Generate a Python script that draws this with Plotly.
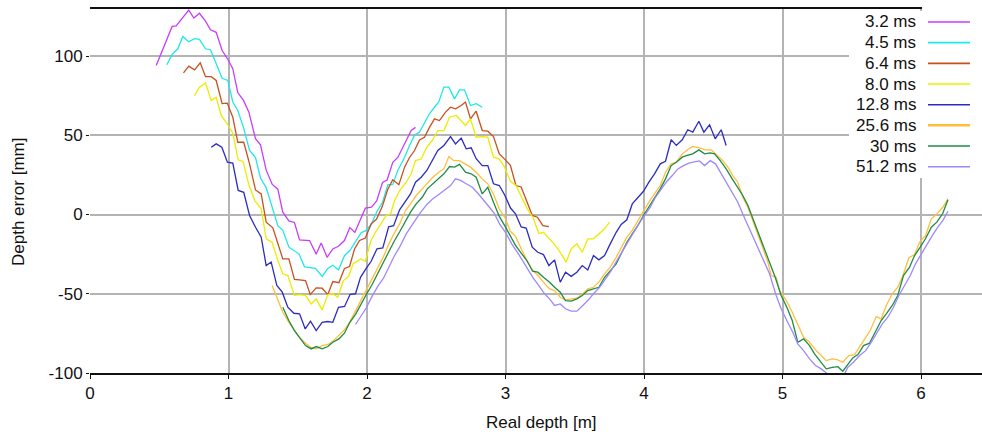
import plotly.graph_objects as go

# ---------------- data ----------------
names = ["3.2 ms", "4.5 ms", "6.4 ms", "8.0 ms", "12.8 ms", "25.6 ms", "30 ms", "51.2 ms"]
colors = ["#c83cff", "#1ee8e8", "#c8501e", "#ecec00", "#2c2cc0", "#ffbe3c", "#1e8c46", "#9f88ff"]

x_ticks = [0, 1, 2, 3, 4, 5, 6]
y_ticks = [-100, -50, 0, 50, 100]

x_32 = [0.478,0.593,0.622,0.682,0.713,0.750,0.790,0.834,0.870,0.911,0.954,0.995,1.031,1.067,1.108,1.147,1.195,1.231,1.272,1.316,1.356,1.392,1.436,1.476,1.513,1.585,1.633,1.669,1.712,1.753,1.794,1.837,1.876,1.912,1.950,1.988,2.032,2.070,2.112,2.145,2.186,2.222,2.283,2.319,2.350]
y_32 = [94,118.7,119,126,129,124,127,122,116.6,115,103.5,98,92,77,72,64.6,47.8,44,28,19,16,1.5,-4,-5,-16,-16.4,-25,-18,-27,-21.7,-20,-16.4,-8.2,-11.3,-3.8,4,4.6,8.6,20.3,21.8,33,36,46.7,53,55]

x_45 = [0.555,0.593,0.634,0.670,0.713,0.755,0.790,0.834,0.870,0.911,0.954,0.995,1.031,1.067,1.108,1.152,1.195,1.231,1.272,1.308,1.356,1.392,1.436,1.508,1.549,1.628,1.676,1.717,1.753,1.794,1.837,1.876,1.920,1.958,1.994,2.032,2.072,2.112,2.150,2.186,2.222,2.271,2.307,2.343,2.379,2.415,2.451,2.487,2.518,2.555,2.591,2.632,2.668,2.704,2.747,2.788,2.832]
y_45 = [94.5,101,104.6,112.4,109,111,110.5,104.6,104,95,86,84.6,71,65.7,55,40.4,36,23,17,6.7,-7,-10,-20.6,-24.8,-33,-34,-39,-34,-32,-35,-26,-22.7,-16.4,-11.5,-10,-6,2,7.7,18.7,19,27.8,36,43.6,50,52,58,63.6,67.7,71,80.4,80.4,73,78.7,78.7,68.8,70,67.7]

x_64 = [0.675,0.713,0.755,0.796,0.834,0.875,0.911,0.954,0.991,1.031,1.067,1.110,1.152,1.195,1.236,1.272,1.320,1.356,1.392,1.436,1.476,1.513,1.556,1.590,1.633,1.676,1.717,1.753,1.797,1.837,1.874,1.910,1.946,1.988,2.030,2.068,2.110,2.150,2.186,2.230,2.271,2.307,2.343,2.379,2.415,2.451,2.487,2.523,2.567,2.603,2.639,2.680,2.711,2.747,2.788,2.832,2.872,2.913,2.955,2.999,3.035,3.075,3.113,3.151,3.193,3.230,3.270,3.313]
y_64 = [89.4,93.6,91.3,95.7,87,87,84.6,70,70.3,61.4,45.6,45.6,32,15.5,13,-4.8,-8.4,-17.5,-28,-28,-41,-41.2,-41.7,-50.5,-46.3,-46.5,-50.5,-42.3,-43,-34,-32.8,-21.7,-16.4,-14.8,-5.9,-3,5,16,22,18.8,29.9,36,40.4,47,48.8,55,60.4,59.3,64.6,67.7,66.7,68.8,71,60.4,65.2,53,52.6,49.2,38.3,34.5,31,18.3,17.4,8.8,-0.6,-1.7,-7,-7.6]

x_80 = [0.755,0.790,0.834,0.875,0.911,0.947,0.988,1.031,1.070,1.105,1.147,1.190,1.236,1.272,1.315,1.356,1.392,1.428,1.476,1.513,1.556,1.597,1.633,1.676,1.717,1.753,1.789,1.830,1.868,1.900,1.955,1.988,2.026,2.062,2.100,2.138,2.170,2.199,2.235,2.283,2.319,2.350,2.391,2.432,2.471,2.511,2.555,2.596,2.644,2.711,2.747,2.788,2.832,2.872,2.913,2.955,2.993,3.035,3.075,3.116,3.157,3.200,3.240,3.274,3.318,3.361,3.402,3.438,3.474,3.515,3.554,3.594,3.635,3.674,3.715,3.751]
y_80 = [75,80.4,83,72,74,62.5,57.6,51.3,34.5,33.5,18.8,8.8,3.6,-15.3,-17.5,-29,-37.4,-38.5,-51,-50.5,-51,-56.4,-53.2,-60.2,-50.5,-50,-52.2,-41.7,-39,-31,-28,-29.5,-17,-11,-6,-0.6,0.4,8.8,15,20.4,25.7,34,35,42.5,46.7,53,53,61.4,62.5,56.2,60.4,48.8,49.2,48.8,36.2,35,29.9,21,18.3,10.4,3.6,-2.2,-12,-11.2,-15.3,-19.6,-24.8,-30,-21.7,-18.5,-23.8,-15.3,-15.3,-12.2,-9,-4.8]

x_128 = [0.875,0.911,0.952,0.992,1.031,1.070,1.110,1.152,1.195,1.236,1.272,1.308,1.349,1.388,1.428,1.472,1.513,1.554,1.592,1.633,1.676,1.717,1.753,1.794,1.838,1.878,1.917,1.953,1.994,2.030,2.072,2.114,2.156,2.192,2.235,2.278,2.314,2.350,2.391,2.432,2.471,2.511,2.555,2.603,2.639,2.680,2.716,2.752,2.788,2.832,2.872,2.913,2.955,2.993,3.036,3.072,3.113,3.149,3.193,3.233,3.274,3.313,3.354,3.395,3.433,3.474,3.515,3.554,3.594,3.635,3.674,3.715,3.756,3.799,3.835,3.876,3.915,3.955,3.996,4.035,4.076,4.117,4.155,4.196,4.233,4.276,4.316,4.352,4.396,4.432,4.473,4.514,4.557,4.593]
y_128 = [42.5,44.6,42.5,33,32.5,15.2,14,-0.6,-8,-14.3,-32.2,-30,-44.8,-49,-58.5,-62.3,-62.7,-72.2,-67.3,-73.2,-68,-67.5,-68,-58.5,-58,-50.3,-50,-39.6,-34,-29.5,-21.6,-21,-7.8,-7,3,8.8,13,20.4,23.5,27.8,34,40.4,43.6,49.2,44.6,48.2,41.5,42.1,35.2,30.9,30.9,19.4,18.3,12.5,4.1,0.5,-7.8,-8.6,-20.6,-23.8,-25.3,-32.2,-28.6,-42.7,-36.4,-39,-36.4,-32.2,-35,-25.9,-28.6,-25.9,-18.5,-11.2,-6.3,-3.3,6.7,10.9,14.7,20.4,25.7,32,33.6,47.2,43.6,47.2,53.5,52,58.9,52,56.6,47.8,53.5,43.6]

x_256 = [1.315,1.356,1.392,1.436,1.476,1.513,1.556,1.592,1.633,1.676,1.717,1.753,1.794,1.833,1.874,1.913,1.950,1.994,2.032,2.072,2.114,2.156,2.195,2.235,2.278,2.314,2.355,2.399,2.439,2.475,2.518,2.555,2.591,2.627,2.668,2.711,2.747,2.788,2.832,2.872,2.913,2.955,2.997,3.035,3.072,3.113,3.154,3.195,3.235,3.274,3.318,3.354,3.395,3.433,3.474,3.515,3.558,3.594,3.635,3.674,3.715,3.756,3.799,3.835,3.876,3.915,3.955,3.996,4.035,4.076,4.117,4.155,4.196,4.233,4.276,4.316,4.352,4.400,4.444,4.485,4.529,4.569,4.605,4.641,4.677,4.713,4.750,4.786,4.822,4.858,4.894,4.918,4.954,4.978,5.027,5.070,5.110,5.152,5.195,5.238,5.279,5.315,5.359,5.399,5.435,5.479,5.520,5.556,5.592,5.633,5.676,5.712,5.749,5.792,5.832,5.869,5.912,5.953,5.989,6.032,6.074,6.114,6.157,6.194]
y_256 = [-44.8,-53.2,-61.7,-68,-73.2,-77.5,-81.2,-83.8,-84.8,-82.7,-82,-80,-76.4,-73.2,-68,-61.5,-54.5,-48,-41.7,-35,-27.5,-19,-12,-6,2.5,6.7,12,16.2,20.4,23.5,26.7,28.8,36.6,34,34,32,29.9,26.7,22.5,19.4,13,3.5,-2.2,-10.6,-13.8,-21.6,-29,-35,-38.5,-42.7,-46.9,-48,-52.2,-53.9,-53.2,-52.8,-50,-46.9,-45.9,-42.7,-37.4,-33.2,-27,-20.6,-14.3,-10,-3.8,2.5,7.8,13,18.3,26.7,32,33,38.3,41,42.9,42.1,40.8,40.8,37.2,34,29.9,24.6,20.4,10.9,4.6,-3.8,-12.2,-21.7,-30,-38.5,-39.6,-48,-54.3,-61.7,-69,-77.5,-80.6,-85.4,-89,-92.2,-91.1,-91.7,-93.2,-89,-88.4,-83.3,-78.5,-73.2,-64.4,-65.8,-57.4,-50,-45.9,-38.5,-27.3,-25.3,-17.5,-13.3,-2.7,0.4,4.6,9.9]

x_30 = [1.392,1.436,1.476,1.513,1.556,1.597,1.633,1.676,1.717,1.753,1.797,1.837,1.876,1.917,1.958,1.994,2.036,2.076,2.114,2.156,2.195,2.235,2.278,2.314,2.355,2.399,2.435,2.475,2.518,2.555,2.596,2.632,2.668,2.711,2.752,2.788,2.832,2.872,2.913,2.955,2.997,3.035,3.072,3.113,3.154,3.195,3.233,3.274,3.318,3.354,3.395,3.433,3.474,3.515,3.554,3.594,3.635,3.674,3.715,3.756,3.799,3.835,3.876,3.915,3.955,3.996,4.035,4.076,4.117,4.155,4.196,4.233,4.276,4.305,4.352,4.396,4.437,4.478,4.509,4.550,4.593,4.630,4.670,4.713,4.750,4.786,4.829,4.870,4.906,4.947,4.990,5.031,5.070,5.110,5.152,5.195,5.231,5.272,5.315,5.359,5.399,5.435,5.471,5.507,5.544,5.585,5.628,5.676,5.712,5.749,5.792,5.832,5.873,5.917,5.953,5.994,6.032,6.074,6.114,6.157,6.194]
y_30 = [-58.5,-67,-73.2,-77.9,-82.7,-84.8,-83.3,-84.8,-83.3,-80.6,-78.5,-74.9,-68,-63,-56,-50.6,-44.3,-37.2,-31,-23.2,-17,-11,-3.8,1.5,6.7,10.9,16.2,19.4,22.5,25.7,30.3,29.9,31.6,26.7,25.7,23.5,13,17.2,7.8,-1.2,-7.5,-13.8,-19.5,-24.3,-29,-35.8,-36.4,-39.6,-42.7,-45.9,-49,-54.3,-54.7,-53.2,-51.1,-48,-46.9,-45.9,-39.6,-35.4,-31.1,-24.8,-17.5,-12.2,-7,-0.6,4.6,10.9,16.2,22.5,30.9,33,36.2,37.2,38.3,40.8,38.3,38.9,38.3,34,28.8,23.5,18.3,12,5.7,-2.7,-13.3,-21.7,-30,-39.6,-51.1,-58.5,-66.9,-80.6,-78.5,-82.7,-87.9,-92.2,-97.4,-96.4,-96,-98.9,-94.3,-90.5,-88.4,-82.7,-81.2,-73.2,-66.9,-62.7,-57.4,-51.1,-38.5,-33.2,-25.9,-20.6,-15.3,-8,-4.8,0.8,9.3]

x_512 = [1.917,1.950,1.994,2.040,2.080,2.120,2.160,2.195,2.235,2.283,2.331,2.379,2.435,2.475,2.523,2.567,2.603,2.639,2.675,2.716,2.760,2.800,2.836,2.884,2.921,2.957,3.003,3.045,3.101,3.149,3.197,3.240,3.282,3.318,3.354,3.395,3.433,3.474,3.515,3.558,3.594,3.635,3.679,3.722,3.763,3.804,3.843,3.883,3.919,3.962,4.004,4.045,4.083,4.124,4.160,4.204,4.244,4.285,4.324,4.364,4.400,4.437,4.478,4.516,4.557,4.593,4.637,4.677,4.713,4.750,4.791,4.829,4.870,4.906,4.954,4.990,5.031,5.074,5.110,5.152,5.195,5.238,5.279,5.315,5.360,5.400,5.440,5.471,5.512,5.556,5.600,5.641,5.676,5.720,5.760,5.801,5.840,5.881,5.922,5.960,6.001,6.037,6.081,6.121,6.157,6.194]
y_512 = [-69.4,-65,-59,-51,-45,-40,-33,-26.5,-20.6,-12.2,-5.9,0.4,6.7,9.9,13,16.2,18.3,22.5,21.5,19.4,17.2,13.4,9.9,4.6,0.4,-5.9,-11.7,-18.5,-25.9,-33.2,-39.6,-44.8,-50,-53.2,-57.4,-56.4,-59.5,-61,-61,-57.4,-54.3,-50,-45.9,-40.6,-35.4,-29,-23.2,-17.5,-11.8,-5.9,-0.6,4.6,10.9,16.2,20.4,24.6,28.8,30.9,32.4,33.2,33.8,30.9,34,32,25.7,20.4,14.1,7.8,0.4,-7,-14.3,-22.7,-31.1,-37.4,-51.1,-59.5,-66.9,-74.3,-81.6,-85.9,-91.1,-95.3,-97.4,-100.2,-103,-104,-102,-96.4,-93.2,-89,-85.9,-80.6,-75.3,-69,-64.8,-58.5,-51.1,-44.8,-38.5,-31.1,-24.8,-19.6,-13.3,-8,-3.8,2.1]

series_x = [x_32, x_45, x_64, x_80, x_128, x_256, x_30, x_512]
series_y = [y_32, y_45, y_64, y_80, y_128, y_256, y_30, y_512]

# ---------------- figure ----------------
W, H = 982, 439
L, R, T, B = 90, 0, 9, 66
PW, PH = W - L - R, H - T - B
FONT = "Liberation Sans, Arial, sans-serif"
FS = 17

def px_x(px):
    return (px - L) / PW

def px_y(py):
    return (H - B - py) / PH

fig = go.Figure()
for nm, col, xs, ys in zip(names, colors, series_x, series_y):
    fig.add_trace(go.Scatter(x=xs, y=ys, mode="lines", name=nm,
                             line=dict(color=col, width=1.3), showlegend=False))

shapes = []
annotations = []
# legend box (white) covering grid lines, drawn manually: label then sample line
shapes.append(dict(type="rect", xref="paper", yref="paper", layer="above",
                   x0=px_x(849), x1=px_x(982), y0=px_y(178), y1=px_y(11),
                   fillcolor="white", line=dict(width=0)))
shapes.append(dict(type="rect", xref="paper", yref="paper", layer="above",
                   x0=px_x(922), x1=px_x(982), y0=px_y(12), y1=px_y(0),
                   fillcolor="white", line=dict(width=0)))
for i, (nm, col) in enumerate(zip(names, colors)):
    yy = 22 + i * 20.67
    annotations.append(dict(text=nm, xref="paper", yref="paper", x=px_x(918), y=px_y(yy),
                            xanchor="right", yanchor="middle", showarrow=False,
                            font=dict(family=FONT, size=FS, color="#111")))
    shapes.append(dict(type="line", xref="paper", yref="paper", layer="above",
                       x0=px_x(928), x1=px_x(970), y0=px_y(yy), y1=px_y(yy),
                       line=dict(color=col, width=2.5 if nm == "25.6 ms" else 1.6)))

annotations.append(dict(text="Real depth [m]", xref="paper", yref="paper",
                        x=px_x(541), y=px_y(422), xanchor="center", yanchor="middle",
                        showarrow=False, font=dict(family=FONT, size=FS, color="#111")))
annotations.append(dict(text="Depth error [mm]", xref="paper", yref="paper",
                        x=px_x(18), y=px_y(202), xanchor="center", yanchor="middle",
                        textangle=-90, showarrow=False,
                        font=dict(family=FONT, size=FS, color="#111")))

fig.update_layout(
    width=W, height=H,
    margin=dict(l=L, r=R, t=T, b=B, pad=0),
    paper_bgcolor="white", plot_bgcolor="white",
    font=dict(family=FONT, size=FS, color="#111"),
    showlegend=False,
    shapes=shapes, annotations=annotations,
    xaxis=dict(range=[0, 6.44], tickvals=x_ticks, ticktext=[str(v) for v in x_ticks],
               showgrid=True, gridcolor="#b4b4b4", gridwidth=1.5,
               showline=True, linecolor="#111", linewidth=2, mirror=True,
               ticks="outside", ticklen=4, tickcolor="#111", zeroline=False,
               tickfont=dict(family=FONT, size=FS, color="#111")),
    yaxis=dict(range=[-100, 129.7], tickvals=y_ticks, ticktext=[str(v) for v in y_ticks],
               showgrid=True, gridcolor="#b4b4b4", gridwidth=1.5,
               showline=False, ticks="outside", ticklen=3, tickcolor="#111",
               zeroline=False, tickfont=dict(family=FONT, size=FS, color="#111")),
)

fig.write_html("out.html")
